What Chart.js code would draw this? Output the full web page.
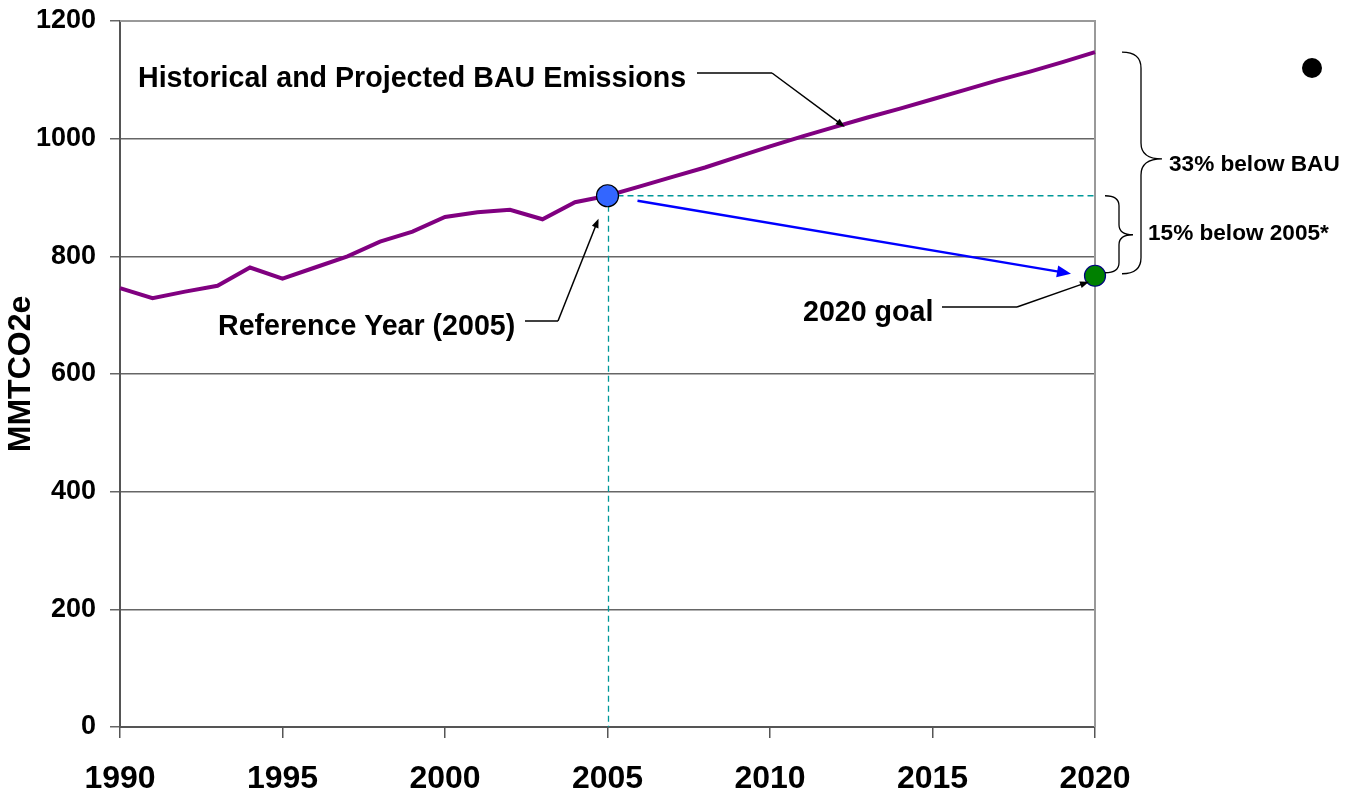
<!DOCTYPE html>
<html>
<head>
<meta charset="utf-8">
<script src="https://cdn.jsdelivr.net/npm/chart.js@4/dist/chart.umd.min.js"></script>
<style>
  html,body{margin:0;padding:0;background:#fff;}
  #wrap{width:1347px;height:795px;}
</style>
</head>
<body>
<div id="wrap"><canvas id="c" width="1347" height="795"></canvas></div>
<script>
// data
const years = [1990,1991,1992,1993,1994,1995,1996,1997,1998,1999,2000,2001,2002,2003,2004,2005,
               2006,2007,2008,2009,2010,2011,2012,2013,2014,2015,2016,2017,2018,2019,2020];
const bau = [746,729,740,750,781,762,781,800,825,842,867,875,879,863,892,903,
             919,935,951,969,987,1004,1020,1036,1051,1067,1083,1099,1114,1130,1147];
const refYear = 2005, refValue = 903;
const goalYear = 2020, goalValue = 767;
const yTicks = [0,200,400,600,800,1000,1200];
const xTicks = [1990,1995,2000,2005,2010,2015,2020];

const FONT = '"Liberation Sans", Arial, sans-serif';
const TEAL = '#009999';

function arrow(ctx,x1,y1,x2,y2,color,w,hl,hw){
  const a = Math.atan2(y2-y1,x2-x1);
  ctx.save();
  ctx.strokeStyle=color; ctx.fillStyle=color; ctx.lineWidth=w;
  ctx.beginPath(); ctx.moveTo(x1,y1);
  ctx.lineTo(x2-Math.cos(a)*hl*0.8, y2-Math.sin(a)*hl*0.8); ctx.stroke();
  ctx.beginPath();
  ctx.moveTo(x2,y2);
  ctx.lineTo(x2-Math.cos(a)*hl+Math.sin(a)*hw, y2-Math.sin(a)*hl-Math.cos(a)*hw);
  ctx.lineTo(x2-Math.cos(a)*hl-Math.sin(a)*hw, y2-Math.sin(a)*hl+Math.cos(a)*hw);
  ctx.closePath(); ctx.fill();
  ctx.restore();
}

function callout(ctx,pts,color){
  // polyline with arrow head on the last segment
  ctx.save();
  ctx.strokeStyle=color; ctx.lineWidth=1.5;
  ctx.beginPath(); ctx.moveTo(pts[0][0],pts[0][1]);
  for(let i=1;i<pts.length-1;i++) ctx.lineTo(pts[i][0],pts[i][1]);
  ctx.stroke();
  ctx.restore();
  const n=pts.length;
  arrow(ctx,pts[n-2][0],pts[n-2][1],pts[n-1][0],pts[n-1][1],color,1.5,9,3.5);
}

function brace(ctx,x0,xs,xp,y0,ym,y1,r){
  ctx.save();
  ctx.strokeStyle='#000'; ctx.lineWidth=1.3;
  ctx.beginPath();
  ctx.moveTo(x0,y0);
  ctx.quadraticCurveTo(xs,y0,xs,y0+r);
  ctx.lineTo(xs,ym-r);
  ctx.quadraticCurveTo(xs,ym,xp,ym);
  ctx.quadraticCurveTo(xs,ym,xs,ym+r);
  ctx.lineTo(xs,y1-r);
  ctx.quadraticCurveTo(xs,y1,x0,y1);
  ctx.stroke();
  ctx.restore();
}

const under = {
  id:'under',
  beforeDatasetsDraw(chart){
    const {ctx, chartArea:a, scales:{x,y}} = chart;
    const px = x.getPixelForValue(refYear), py = y.getPixelForValue(refValue);
    ctx.save();
    ctx.strokeStyle=TEAL; ctx.lineWidth=1.3; ctx.setLineDash([6,4]);
    ctx.beginPath(); ctx.moveTo(px,py); ctx.lineTo(a.right,py); ctx.stroke();
    ctx.beginPath(); ctx.moveTo(px+1,py); ctx.lineTo(px+1,a.bottom); ctx.stroke();
    ctx.restore();
    // plot area border, top and right
    ctx.save();
    ctx.strokeStyle='#999'; ctx.lineWidth=2;
    ctx.beginPath(); ctx.moveTo(a.left,a.top); ctx.lineTo(a.right,a.top); ctx.lineTo(a.right,a.bottom); ctx.stroke();
    ctx.restore();
  }
};

const notes = {
  id:'notes',
  afterDraw(chart){
    const {ctx, chartArea:a, scales:{x,y}} = chart;
    const rx = x.getPixelForValue(refYear), ry = y.getPixelForValue(refValue);
    const gx = x.getPixelForValue(goalYear), gy = y.getPixelForValue(goalValue);
    const by = y.getPixelForValue(bau[bau.length-1]);

    // blue arrow from reference year to goal
    arrow(ctx, rx+30, ry+5, gx-24, gy-2, '#0000ff', 2.5, 14, 6);

    ctx.save();
    ctx.fillStyle='#000';
    ctx.textBaseline='middle';
    ctx.font='bold 28.6px '+FONT;
    ctx.fillText('Historical and Projected BAU Emissions', 138, 79);
    ctx.fillText('Reference Year (2005)', 218, 327);
    ctx.fillText('2020 goal', 803, 313);
    ctx.font='bold 22.6px '+FONT;
    ctx.fillText('33% below BAU', 1169, 165);
    ctx.fillText('15% below 2005*', 1148, 234);
    ctx.restore();

    callout(ctx, [[697,73],[772,73],[x.getPixelForValue(2012.3), y.getPixelForValue(1020)]], '#000');
    callout(ctx, [[525,321],[558,321],[rx-9, ry+23]], '#000');
    callout(ctx, [[942,307],[1017,307],[gx-6, gy+6]], '#000');

    brace(ctx, gx+27, gx+46, gx+67, by, (by+gy)/2-5, gy-2, 16);
    brace(ctx, gx+10, gx+24, gx+38, ry, (ry+gy)/2-1, gy-3, 10);

    // stray black marker at the top right
    ctx.save();
    ctx.fillStyle='#000';
    ctx.beginPath(); ctx.arc(1312,68,10,0,Math.PI*2); ctx.fill();
    ctx.restore();
  }
};

new Chart(document.getElementById('c'),{
  type:'line',
  data:{
    datasets:[
      {data:years.map((yr,i)=>({x:yr,y:bau[i]})), borderColor:'#800080', borderWidth:4,
       pointRadius:0, tension:0, clip:false, order:3},
      {data:[{x:refYear,y:refValue}], showLine:false, pointRadius:11, pointBackgroundColor:'#3366ff',
       pointBorderColor:'#000', pointBorderWidth:1.2, clip:false, order:1},
      {data:[{x:goalYear,y:goalValue}], showLine:false, pointRadius:10.5, pointBackgroundColor:'#008000',
       pointBorderColor:'#000080', pointBorderWidth:1.2, clip:false, order:1}
    ]
  },
  options:{
    responsive:false, animation:false,
    layout:{padding:{top:21,right:252,left:0,bottom:0}},
    plugins:{legend:{display:false}, tooltip:{enabled:false}},
    scales:{
      x:{
        type:'linear', min:1990, max:2020,
        afterBuildTicks(s){ s.ticks = xTicks.map(v=>({value:v})); },
        afterFit(s){ s.height = 68; s.paddingLeft = 0; s.paddingRight = 0; },
        grid:{drawOnChartArea:false, tickLength:11, color:'#555', lineWidth:1.5},
        border:{color:'#555', width:2},
        ticks:{color:'#000', font:{family:FONT, size:32, weight:'bold'}, padding:22, maxRotation:0,
               callback:v=>String(v)}
      },
      y:{
        min:0, max:1200,
        afterBuildTicks(s){ s.ticks = yTicks.map(v=>({value:v})); },
        afterFit(s){ s.width = 120; s.paddingTop = 0; s.paddingBottom = 0; },
        grid:{color:'#666', lineWidth:1.5, tickLength:10},
        border:{color:'#555', width:2},
        ticks:{color:'#000', font:{family:FONT, size:27, weight:'bold'}, padding:14, callback:v=>String(v)},
        title:{display:true, text:'MMTCO2e', color:'#000', font:{family:FONT, size:32, weight:'bold'}, padding:{top:2,bottom:0}}
      }
    }
  },
  plugins:[under, notes]
});
</script>
</body>
</html>
